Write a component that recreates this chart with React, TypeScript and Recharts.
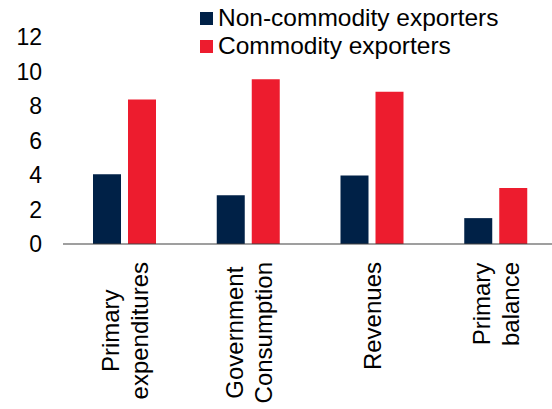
import React from 'react';
import { BarChart, Bar, XAxis, YAxis, Legend } from 'recharts';

const categories = ['Primary\nexpenditures', 'Government\nConsumption', 'Revenues', 'Primary\nbalance'];
const nonCommodity = [4.05, 2.83, 3.97, 1.5];
const commodity = [8.38, 9.55, 8.82, 3.24];
const yTicks = [0, 2, 4, 6, 8, 10, 12];

const NAVY = '#002147';
const RED = '#ED1C2E';
const FONT = '"Liberation Sans", Arial, sans-serif';

const data = categories.map((name, i) => ({
  name,
  nonCommodity: nonCommodity[i],
  commodity: commodity[i],
}));

let measureCtx: CanvasRenderingContext2D | null = null;
const textWidth = (s: string, size: number) => {
  if (!measureCtx && typeof document !== 'undefined') {
    measureCtx = document.createElement('canvas').getContext('2d');
  }
  if (!measureCtx) return s.length * size * 0.55;
  measureCtx.font = `${size}px ${FONT}`;
  return measureCtx.measureText(s).width;
};

// rotated, multi-line category label: block hangs below the axis, lines centred in it
const CategoryTick = ({ x, y, payload }: any) => {
  const lines = String(payload.value).split('\n');
  const size = 24;
  const lineH = 29;
  const gap = 18;
  const blockW = Math.max(...lines.map((l) => textWidth(l, size)));
  return (
    <g transform={`translate(${x},${y})`}>
      <text transform="rotate(-90)" fontSize={size} fontFamily={FONT} fill="#000">
        {lines.map((l, i) => (
          <tspan
            key={i}
            x={-(gap + blockW / 2)}
            y={(i - (lines.length - 1) / 2) * lineH + 8.5}
            textAnchor="middle"
          >
            {l}
          </tspan>
        ))}
      </text>
    </g>
  );
};

const LegendContent = () => {
  const items = [
    { label: 'Non-commodity exporters', color: NAVY },
    { label: 'Commodity exporters', color: RED },
  ];
  return (
    <div style={{ fontFamily: FONT, fontSize: 24.5, color: '#000' }}>
      {items.map((it) => (
        <div key={it.label} style={{ display: 'flex', alignItems: 'center', height: 28, lineHeight: '28px', whiteSpace: 'nowrap' }}>
          <span style={{ width: 13, height: 13, background: it.color, marginRight: 5, display: 'inline-block' }} />
          <span>{it.label}</span>
        </div>
      ))}
    </div>
  );
}

export default function App() {
  return (
    <div style={{ position: 'absolute', left: 0, top: 0, width: 552, height: 409, overflow: 'hidden', background: '#fff' }}>
      <BarChart
        width={558}
        height={409}
        data={data}
        margin={{ top: 37, right: 0, bottom: 0, left: 0 }}
        barSize={28}
        barGap={7}
      >
        <XAxis
          dataKey="name"
          interval={0}
          height={165}
          tickLine={false}
          tickSize={0}
          tickMargin={0}
          axisLine={{ stroke: '#404040', strokeWidth: 1.2 }}
          tick={<CategoryTick />}
        />
        <YAxis
          width={63}
          domain={[0, 12]}
          ticks={yTicks}
          axisLine={false}
          tickLine={false}
          tickSize={0}
          tickMargin={21}
          tick={{ fontSize: 23, fontFamily: FONT, fill: '#000' }}
        />
        <Legend
          layout="vertical"
          align="center"
          verticalAlign="middle"
          content={<LegendContent />}
          wrapperStyle={{ left: 200, top: 4, width: 'auto' }}
        />
        <Bar dataKey="nonCommodity" name="Non-commodity exporters" fill={NAVY} isAnimationActive={false} />
        <Bar dataKey="commodity" name="Commodity exporters" fill={RED} isAnimationActive={false} />
      </BarChart>
    </div>
  );
}
